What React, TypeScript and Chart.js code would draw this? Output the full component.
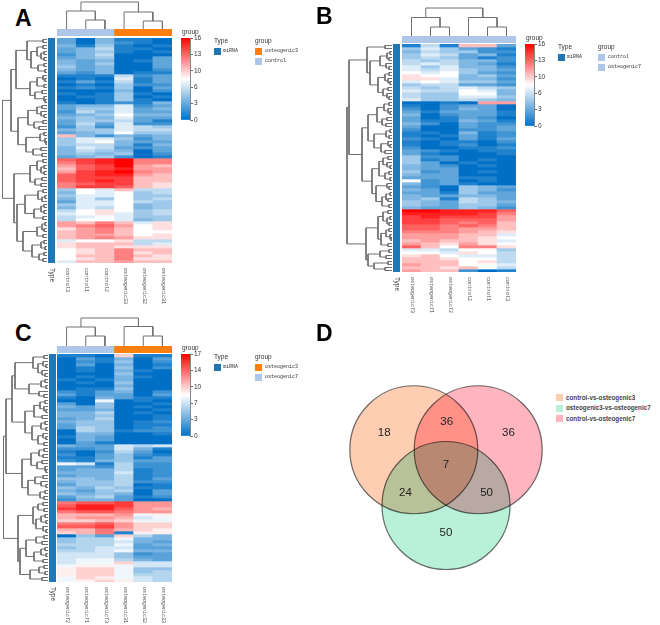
import React, { useEffect, useRef } from "react";
import { Chart, registerables } from "chart.js";

Chart.register(...registerables);

// ---------- data ----------
const labelsA = ["control3", "control1", "control2", "osteogenic33", "osteogenic32", "osteogenic31"];
const labelsB = ["osteogenic73", "osteogenic71", "osteogenic72", "control2", "control1", "control3"];
const labelsC = ["osteogenic72", "osteogenic71", "osteogenic73", "osteogenic31", "osteogenic32", "osteogenic33"];

const ticksA = [0, 3.2, 6.4, 9.6, 12.8, 16];
const ticksB = [0, 3.2, 6.4, 9.6, 12.8, 16];
const ticksC = [0, 3.4, 6.8, 10.2, 13.6, 17];

const rowsA = [
  [3,0,4,1,1,0],[3,0,4,2,1,0],[4,1,5,1,0,1],[3,4,6,1,1,0],[3,4,5,1,0,1],[2,4,6,0,0,0],[3,4,5,0,0,3],[4,3,4,0,1,3],
  [4,3,5,0,0,3],[5,3,4,0,0,3],[4,3,4,0,0,2],[3,2,4,0,1,1],[1,1,1,6,2,3],[0,1,0,7,1,3],[1,3,1,6,1,3],[0,1,0,5,2,2],
  [1,2,1,5,0,3],[0,0,0,4,0,2],[1,0,1,5,1,0],[0,1,1,5,0,1],[0,0,1,5,1,0],[1,0,1,2,1,4],[3,4,4,7,2,3],[3,5,5,7,3,4],
  [2,6,4,7,3,3],[3,4,5,8,4,4],[4,5,4,7,3,3],[3,5,5,6,3,1],[3,6,3,7,2,2],[2,5,2,7,6,5],[4,5,5,7,6,6],[3,4,5,8,5,5],
  [10,4,2,4,3,4],[5,7,7,5,2,4],[5,7,8,4,3,3],[5,6,6,4,1,4],[4,7,6,3,2,3],[4,6,5,4,0,3],[4,5,4,5,0,2],[3,4,5,2,0,1],
  [13,14,15,16,12,12],[12,14,15,16,12,12],[11,13,14,16,11,10],[10,13,14,15,11,11],[11,14,15,16,12,11],[13,14,15,15,11,10],
  [13,14,14,14,10,10],[13,14,15,14,10,10],[12,13,14,14,10,9],[12,14,14,13,10,9],[5,8,7,10,6,6],[4,8,7,8,5,6],[5,7,7,8,5,5],
  [4,7,5,8,5,6],[3,7,7,8,6,5],[5,7,7,8,4,5],[4,7,6,8,4,5],[6,8,9,8,5,6],[7,8,9,7,5,6],[6,7,8,7,5,5],[6,8,8,7,4,5],
  [11,10,12,10,7,9],[11,12,13,11,8,9],[9,11,12,10,8,9],[10,11,12,10,8,8],[10,11,11,10,8,9],[10,11,12,11,9,9],[7,8,8,9,6,6],
  [9,10,10,10,6,7],[9,10,10,9,9,9],[8,9,10,12,10,10],[8,9,10,12,9,10],[8,10,10,12,10,9],[8,9,10,12,9,9],[7,10,10,11,10,10],
];

const rowsB = [
  [1,6,1,10,10,3],[5,7,5,3,2,1],[4,6,5,5,2,2],[5,7,6,3,4,1],[5,6,5,3,1,2],[6,5,6,4,4,2],[6,7,6,4,3,1],[7,5,7,4,4,2],
  [7,6,7,5,4,3],[8,7,8,5,3,2],[9,8,8,4,5,3],[9,9,7,4,4,2],[7,8,7,5,5,3],[5,6,6,3,3,2],[6,5,6,7,6,5],[7,6,6,8,7,4],
  [6,5,5,8,8,4],[6,5,5,7,7,5],[7,5,5,6,5,4],[0,0,1,0,11,11],[1,0,2,3,3,0],[2,0,2,4,3,0],[3,1,3,3,3,1],[4,0,2,3,3,1],
  [3,0,1,3,2,0],[3,1,1,4,3,1],[4,2,0,3,2,2],[3,0,0,3,2,3],[2,0,0,2,2,3],[1,1,0,4,1,2],[1,0,1,3,1,2],[2,1,0,3,1,3],
  [1,0,1,1,0,2],[1,0,1,2,0,1],[2,0,0,1,1,2],[3,2,1,0,1,1],[3,1,0,0,0,1],[5,2,2,0,0,0],[5,1,2,0,1,0],[5,3,0,1,0,0],
  [4,3,2,0,1,0],[4,3,3,0,0,0],[5,2,3,0,1,0],[4,3,3,0,0,0],[3,3,3,1,1,0],[8,2,3,0,1,0],[4,2,3,1,0,0],[3,2,0,5,4,3],
  [4,3,0,5,4,2],[3,3,1,5,3,3],[4,3,3,4,4,3],[4,5,1,6,5,3],[5,4,3,6,5,4],[5,4,3,5,5,3],[4,3,3,5,4,2],[16,16,15,15,15,13],
  [15,15,15,15,14,12],[14,15,14,14,14,11],[14,14,13,13,13,11],[14,14,13,12,13,10],[13,13,12,13,12,10],[13,13,12,11,11,10],
  [12,12,12,11,10,9],[11,11,11,10,10,7],[11,11,11,10,9,8],[10,11,10,10,9,7],[11,10,9,11,9,8],[13,10,8,12,12,9],[7,7,6,8,8,5],
  [8,8,7,9,8,6],[9,10,8,7,7,6],[10,10,9,8,8,6],[10,10,10,8,9,6],[11,10,10,8,8,7],[10,10,9,10,8,6],[11,10,10,2,0,1],
];

const rowsC = [
  [1,1,0,10,1,1],[0,3,1,4,0,3],[0,2,1,5,0,2],[0,3,0,4,0,1],[0,1,0,5,0,2],[0,1,0,4,1,0],[0,0,0,5,0,0],[0,1,0,4,1,0],
  [1,0,1,4,0,0],[0,1,0,5,0,0],[0,0,0,4,0,0],[0,1,1,5,0,0],[2,1,3,4,0,2],[3,1,3,3,0,3],[1,0,4,3,1,1],[0,0,8,0,1,0],
  [3,0,5,0,0,1],[4,3,5,0,1,0],[3,3,4,0,0,1],[4,4,6,0,1,0],[4,4,5,0,0,1],[3,4,6,0,0,1],[4,5,5,0,1,2],[3,5,5,0,1,1],
  [3,6,5,0,1,2],[0,6,5,1,2,2],[0,4,4,0,0,1],[1,4,3,0,0,0],[0,4,3,0,0,0],[0,3,1,0,0,0],[4,3,3,7,6,7],[2,2,3,7,4,1],
  [1,0,2,6,3,0],[2,0,3,5,2,1],[1,1,3,5,1,3],[2,1,4,5,3,3],[8,7,1,6,2,2],[3,3,2,6,2,2],[3,4,4,6,1,2],[4,4,4,7,1,2],
  [3,4,4,6,1,2],[5,5,4,6,1,3],[4,5,5,6,2,2],[3,5,5,6,0,1],[5,4,6,5,1,1],[4,3,5,6,0,3],[5,4,5,4,0,3],[3,5,6,3,1,2],
  [2,4,4,3,0,0],[13,14,14,15,12,12],[14,16,16,15,12,12],[15,16,16,14,12,11],[13,14,14,13,12,12],[11,11,11,12,8,9],
  [11,12,12,11,7,8],[10,10,11,10,8,8],[13,13,14,12,10,10],[14,14,15,12,10,10],[11,11,13,11,10,9],[10,11,13,1,9,9],
  [0,5,3,10,6,4],[5,6,6,8,4,4],[5,6,6,7,4,3],[6,6,6,8,3,4],[5,6,7,7,3,3],[6,6,7,8,4,4],[7,7,7,5,2,3],[7,7,7,5,3,3],
  [7,8,8,6,4,3],[7,8,8,10,7,7],[8,9,9,8,7,7],[9,10,10,8,5,5],[9,10,10,8,5,6],[9,10,10,8,6,6],[8,10,9,8,7,6],[8,9,10,9,7,6],
];

// dendrograms: [merge height, upper child, lower child], 0 = leaf
const rowTreeA: any = [44.5,
  [36,
    [31,
      [20,[4,0,0],[16,[10,[4,0,0],[6,[3,0,0],[3,0,0]]],[9,[3,0,0],[2,0,0]]]],
      [17,[10,[4,0,[2,0,0]],[3,0,0]],[12,[5,0,0],[3,0,[2,0,0]]]]],
    [29,
      [19,[10,[5,0,0],[6,0,[3,0,0]]],[13,[4,0,0],[8,0,0]]],
      [21,[7,[3,0,0],[2,0,[1,0,0]]],[14,[6,0,0],[5,0,0]]]]],
  [33,
    [17,[10,[4,0,0],[6,[3,0,0],[3,0,0]]],[12,[5,0,0],[6,0,0]]],
    [30,
      [22,[9,[4,0,0],[5,[2,0,0],0]],[13,[6,[3,0,0],[3,0,0]],[4,0,0]]],
      [24,[10,[5,[2,0,0],[3,0,0]],[4,0,0]],[15,[6,[3,0,0],[2,0,0]],[8,[3,0,0],[4,0,0]]]]]]];

const rowTreeB: any = [45,
  [43,
    [25,[7,0,0],[22,[12,[5,[2,0,0],[3,0,0]],[6,0,[3,0,0]]],[14,[7,[3,0,0],[4,0,[2,0,0]]],[9,[4,0,0],[5,0,[3,0,0]]]]]],
    [30,
      [24,
        [15,[8,[3,0,0],[4,0,[2,0,0]]],[10,[5,0,0],[6,0,0]]],
        [18,[6,[2,0,0],[3,0,0]],[11,[4,0,[2,0,0]],[7,0,0]]]],
      [20,
        [13,[9,[4,0,0],[5,0,[2,0,0]]],[7,[3,0,0],[2,0,0]]],
        [16,[5,0,[3,0,0]],[10,[6,[2,0,0],[4,0,0]],[3,0,0]]]]]],
  [26,
    [14,[9,[4,0,0],[5,[2,0,0],[3,0,0]]],[11,[6,[3,0,0],[2,0,[1,0,0]]],[4,0,0]]],
    [24,[12,[3,0,0],[6,0,0]],[18,[4,0,0],[7,0,0]]]]];

const rowTreeC: any = [44.5,
  [42,
    [36,
      [33,
        [15,[4,0,0],[10,[5,0,[2,0,0]],[6,0,[3,0,0]]]],
        [19,[7,[3,0,0],[2,0,0]],[9,0,[4,0,0]]]],
      [23,[14,[8,[3,0,0],[4,0,[2,0,0]]],[6,0,0]],[16,[7,[3,0,0],[2,0,0]],[10,[5,0,[2,0,0]],[4,0,0]]]]],
    [26,[17,[9,[4,0,0],[5,0,0]],[11,[6,0,0],[3,0,[2,0,0]]]],[20,[13,[5,0,0],[7,0,[2,0,0]]],[8,[3,0,0],[4,0,0]]]]],
  [30,
    [15,[10,[5,0,0],[4,0,0]],[12,[7,[3,0,0],[2,0,0]],[5,0,[2,0,0]]]],
    [28,[22,[12,[4,0,0],[6,0,0]],[14,[7,[3,0,0],[2,0,0]],[5,0,0]]],[18,[9,[4,0,0],[3,0,0]],[6,0,0]]]]];

const colTreeA: any = [27, [18, 0, [9, 0, 0]], [17, 0, [8, 0, 0]]];
const colTreeB: any = [28, [18.5, 0, [9, 0, 0]], [18.5, 0, [9, 0, 0]]];
const colTreeC: any = [28, [19, 0, [10, 0, 0]], [19.5, 0, [10, 0, 0]]];

const groupsA = ["control", "control", "control", "osteogenic3", "osteogenic3", "osteogenic3"];
const groupsB = ["osteogenic7", "osteogenic7", "osteogenic7", "control", "control", "control"];
const groupsC = ["osteogenic7", "osteogenic7", "osteogenic7", "osteogenic3", "osteogenic3", "osteogenic3"];

const vennNames = ["control-vs-osteogenic3", "osteogenic3-vs-osteogenic7", "control-vs-osteogenic7"];
const vennColors = ["#FFCDB2", "#B8F0D8", "#FFB5C0"];
const vennCentersX = [-0.5, 0, 0.5];
const vennCentersY = [0, -0.866, 0];
const vennCounts = ["18", "36", "36", "7", "24", "50", "50"];
const vennCountX = [-0.96, 0.01, 0.97, 0, -0.63, 0.63, 0];
const vennCountY = [0.26, 0.43, 0.26, -0.24, -0.67, -0.67, -1.29];

// ---------- helpers ----------
const LOW = [0, 112, 198];
const HIGH = [255, 0, 0];
const SANS = "'Liberation Sans', Arial, sans-serif";
const MONO = "'Liberation Mono', monospace";
const TYPE_COLOR = "#1F77B4";
const GROUP_FILL: Record<string, string> = { control: "#AEC7E8", osteogenic7: "#AEC7E8", osteogenic3: "#FF7F0E" };

function heatColor(v: number, max: number) {
  const t = Math.min(1, v / max);
  const from = t < 0.5 ? LOW : [255, 255, 255];
  const to = t < 0.5 ? [255, 255, 255] : HIGH;
  const k = t < 0.5 ? t * 2 : (t - 0.5) * 2;
  const c = from.map((f, i) => Math.round(f + (to[i] - f) * k));
  return `rgb(${c[0]},${c[1]},${c[2]})`;
}

function leafCount(n: any): number {
  return n === 0 ? 1 : leafCount(n[1]) + leafCount(n[2]);
}

// walks a tree into polyline points in (position, height) terms
function treePoints(tree: any) {
  const pts: { pos: number; h: number }[] = [];
  let next = 0;
  const walk = (n: any): { pos: number; h: number } => {
    if (n === 0) {
      next += 1;
      return { pos: next - 0.5, h: 0 };
    }
    const a = walk(n[1]);
    const b = walk(n[2]);
    pts.push(a, { pos: a.pos, h: n[0] }, { pos: b.pos, h: n[0] }, b, { pos: NaN, h: NaN });
    return { pos: (a.pos + b.pos) / 2, h: n[0] };
  };
  walk(tree);
  return pts;
}

const baseOptions = {
  responsive: false,
  animation: false,
  events: [],
  layout: { padding: 0, autoPadding: false },
  plugins: { legend: { display: false }, tooltip: { enabled: false } },
};

function dendroConfig(tree: any, vertical: boolean, hMax: number) {
  const n = leafCount(tree);
  const data = treePoints(tree).map((p) => (vertical ? { x: p.pos, y: p.h } : { x: p.h, y: p.pos }));
  const posScale = { type: "linear", display: false, min: 0, max: n };
  const hScale = { type: "linear", display: false, min: 0, max: hMax };
  return {
    type: "scatter",
    data: {
      datasets: [{ data, showLine: true, pointRadius: 0, borderColor: "#707070", borderWidth: 1, spanGaps: false, clip: false }],
    },
    options: {
      ...baseOptions,
      scales: vertical
        ? { x: posScale, y: hScale }
        : { x: { ...hScale, reverse: true }, y: { ...posScale, reverse: true } },
    },
  };
}

function rotatedLabels(labels: string[], font: string, color: string, dx: number) {
  return {
    id: "rotatedLabels",
    afterDraw(chart: any) {
      const { ctx, chartArea, scales } = chart;
      ctx.save();
      ctx.font = font;
      ctx.fillStyle = color;
      ctx.textAlign = "left";
      ctx.textBaseline = "middle";
      labels.forEach((text, i) => {
        ctx.save();
        ctx.translate(scales.x.getPixelForValue(i) + dx, chartArea.bottom + 5);
        ctx.rotate(Math.PI / 2);
        ctx.fillText(text, 0, 0);
        ctx.restore();
      });
      ctx.restore();
    },
  };
}

function heatConfig(rows: number[][], labels: string[], max: number, labelRoom: number) {
  return {
    type: "bar",
    data: {
      labels,
      datasets: rows.map((row) => ({
        data: row.map(() => 1),
        backgroundColor: row.map((v) => heatColor(v, max)),
        borderWidth: 0,
        barPercentage: 1,
        categoryPercentage: 1,
      })),
    },
    options: {
      ...baseOptions,
      layout: { padding: { bottom: labelRoom }, autoPadding: false },
      scales: {
        x: { display: false, stacked: true },
        y: { display: false, stacked: true, reverse: true, min: 0, max: rows.length },
      },
    },
    plugins: [rotatedLabels(labels, `5px ${MONO}`, "#444", 1)],
  };
}

function annotationConfig(groups: string[]) {
  return {
    type: "bar",
    data: {
      labels: groups,
      datasets: [{
        data: groups.map(() => 1),
        backgroundColor: groups.map((g) => GROUP_FILL[g]),
        borderWidth: 0, barPercentage: 1, categoryPercentage: 1,
      }],
    },
    options: { ...baseOptions, scales: { x: { display: false }, y: { display: false, min: 0, max: 1 } } },
  };
}

function typeConfig(rowCount: number, labelRoom: number) {
  return {
    type: "bar",
    data: {
      labels: ["Type"],
      datasets: [{ data: [rowCount], backgroundColor: TYPE_COLOR, borderWidth: 0, barPercentage: 1, categoryPercentage: 1 }],
    },
    options: {
      ...baseOptions,
      layout: { padding: { bottom: labelRoom }, autoPadding: false },
      scales: { x: { display: false }, y: { display: false, min: 0, max: rowCount } },
    },
    plugins: [rotatedLabels(["Type"], `6.5px ${SANS}`, "#333", 0.5)],
  };
}

function colorbarConfig(ticks: number[]) {
  const max = ticks[ticks.length - 1];
  return {
    type: "bar",
    data: {
      labels: ["group"],
      datasets: [{
        data: [[0, max]],
        borderWidth: 0, barPercentage: 1, categoryPercentage: 1,
        backgroundColor: (c: any) => {
          const area = c.chart.chartArea;
          if (!area) return "#fff";
          const g = c.chart.ctx.createLinearGradient(0, area.bottom, 0, area.top);
          g.addColorStop(0, heatColor(0, max));
          g.addColorStop(0.5, "#ffffff");
          g.addColorStop(1, heatColor(max, max));
          return g;
        },
      }],
    },
    options: {
      ...baseOptions,
      layout: { padding: { top: 6, bottom: 6 }, autoPadding: false },
      scales: {
        x: { display: false },
        y: {
          position: "right", min: 0, max,
          afterBuildTicks: (ax: any) => { ax.ticks = ticks.map((value) => ({ value })); },
          afterFit: (ax: any) => { ax.width = 21; },
          grid: { drawOnChartArea: false, drawTicks: true, tickLength: 3, color: "#666" },
          border: { display: true, color: "#888" },
          ticks: {
            autoSkip: false, padding: 1, color: "#333",
            font: { family: "Liberation Sans", size: 6.5 },
            callback: (v: number) => String(Math.round(v)),
          },
        },
      },
    },
  };
}

function vennConfig() {
  const order = [1, 0, 2];
  return {
    type: "scatter",
    data: {
      datasets: order.map((i) => ({
        label: vennNames[i],
        data: [{ x: vennCentersX[i], y: vennCentersY[i] }],
        pointRadius: 64,
        backgroundColor: vennColors[i],
        borderColor: "#6e6e6e",
        borderWidth: 1.2,
        clip: false,
      })),
    },
    options: {
      ...baseOptions,
      scales: {
        x: { type: "linear", display: false, min: -1.6, max: 1.6 },
        y: { type: "linear", display: false, min: -1.9, max: 1.1 },
      },
    },
    plugins: [{
      id: "vennBlend",
      beforeDatasetsDraw(chart: any) {
        chart.ctx.save();
        chart.ctx.globalCompositeOperation = "multiply";
      },
      afterDatasetsDraw(chart: any) {
        const { ctx, scales } = chart;
        ctx.restore();
        ctx.save();
        ctx.font = `11.5px ${SANS}`;
        ctx.fillStyle = "#222";
        ctx.textAlign = "center";
        ctx.textBaseline = "middle";
        vennCounts.forEach((t, i) => {
          ctx.fillText(t, scales.x.getPixelForValue(vennCountX[i]), scales.y.getPixelForValue(vennCountY[i]));
        });
        ctx.restore();
      },
    }],
  };
}

// ---------- components ----------
function Box({ left, top, width, height, config }: any) {
  const ref = useRef<HTMLCanvasElement>(null);
  useEffect(() => {
    const chart = new Chart(ref.current as any, config);
    return () => chart.destroy();
  }, []);
  return (
    <canvas
      ref={ref}
      width={width}
      height={height}
      style={{ position: "absolute", left, top, width, height, display: "block" }}
    />
  );
}

function Text({ x, y, size, mono, bold, color, children }: any) {
  return (
    <div
      style={{
        position: "absolute", left: x, top: y - size / 2, fontSize: size, lineHeight: `${size}px`,
        fontFamily: mono ? MONO : SANS, fontWeight: bold ? 700 : 400, color: color || "#333", whiteSpace: "nowrap",
      }}
    >
      {children}
    </div>
  );
}

function Swatch({ x, y, w = 7, h = 7, color }: any) {
  return <div style={{ position: "absolute", left: x, top: y, width: w, height: h, background: color }} />;
}

function HeatPanel(p: any) {
  const room = 48;
  return (
    <>
      <Box left={p.tx - 47} top={p.hy} width={46} height={p.hh} config={dendroConfig(p.rowTree, false, 46)} />
      <Box left={p.hx} top={p.ay - 29} width={p.hw} height={29} config={dendroConfig(p.colTree, true, 29)} />
      <Box left={p.hx} top={p.ay} width={p.hw} height={7} config={annotationConfig(p.groups)} />
      <Box left={p.tx} top={p.hy} width={7} height={p.hh + room} config={typeConfig(p.rows.length, room)} />
      <Box left={p.hx} top={p.hy} width={p.hw} height={p.hh + room} config={heatConfig(p.rows, p.labels, p.max, room)} />
      <Box left={p.cx} top={p.hy - 6} width={30} height={94} config={colorbarConfig(p.ticks)} />
      <Text x={p.cx + 1} y={p.hy - 5.5} size={6.5}>group</Text>
      <Text x={p.lx} y={p.hy + 3.5} size={6.5}>Type</Text>
      <Swatch x={p.lx} y={p.hy + 10} color={TYPE_COLOR} />
      <Text x={p.lx + 9} y={p.hy + 13.5} size={5} mono>miRNA</Text>
      <Text x={p.gx} y={p.hy + 3.5} size={6.5}>group</Text>
      <Swatch x={p.gx} y={p.hy + 10} color={GROUP_FILL[p.legend[0]]} />
      <Swatch x={p.gx} y={p.hy + 20} color={GROUP_FILL[p.legend[1]]} />
      <Text x={p.gx + 10} y={p.hy + 13.5} size={5} mono>{p.legend[0]}</Text>
      <Text x={p.gx + 10} y={p.hy + 23.5} size={5} mono>{p.legend[1]}</Text>
      <Text x={p.letterX} y={p.letterY} size={23} bold color="#000">{p.letter}</Text>
    </>
  );
}

export default function App() {
  return (
    <div style={{ position: "fixed", left: 0, top: 0, width: 660, height: 625, background: "#fff", overflow: "hidden", filter: "blur(0.35px)" }}>
      <HeatPanel letter="A" letterX={15} letterY={18} rows={rowsA} labels={labelsA} groups={groupsA} rowTree={rowTreeA}
        colTree={colTreeA} ticks={ticksA} max={16} legend={["osteogenic3", "control"]}
        hx={57} hy={38} hw={115} hh={225} ay={29} tx={48} cx={181} lx={214} gx={255} />
      <HeatPanel letter="B" letterX={316} letterY={16} rows={rowsB} labels={labelsB} groups={groupsB} rowTree={rowTreeB}
        colTree={colTreeB} ticks={ticksB} max={16} legend={["control", "osteogenic7"]}
        hx={402} hy={44} hw={114} hh={228} ay={36} tx={393} cx={525} lx={558} gx={598} />
      <HeatPanel letter="C" letterX={15} letterY={333} rows={rowsC} labels={labelsC} groups={groupsC} rowTree={rowTreeC}
        colTree={colTreeC} ticks={ticksC} max={17} legend={["osteogenic3", "osteogenic7"]}
        hx={57} hy={354} hw={115} hh={228} ay={346} tx={49} cx={181} lx={214} gx={255} />
      <Text x={316} y={333} size={23} bold color="#000">D</Text>
      <Box left={343} top={379} width={206} height={193} config={vennConfig()} />
      {vennNames.map((name, i) => (
        <React.Fragment key={name}>
          <Swatch x={556} y={394 + i * 10.5} w={7} h={7} color={vennColors[i]} />
          <Text x={566} y={397.7 + i * 10.5} size={6.3} bold color="#444">{name}</Text>
        </React.Fragment>
      ))}
    </div>
  );
}
